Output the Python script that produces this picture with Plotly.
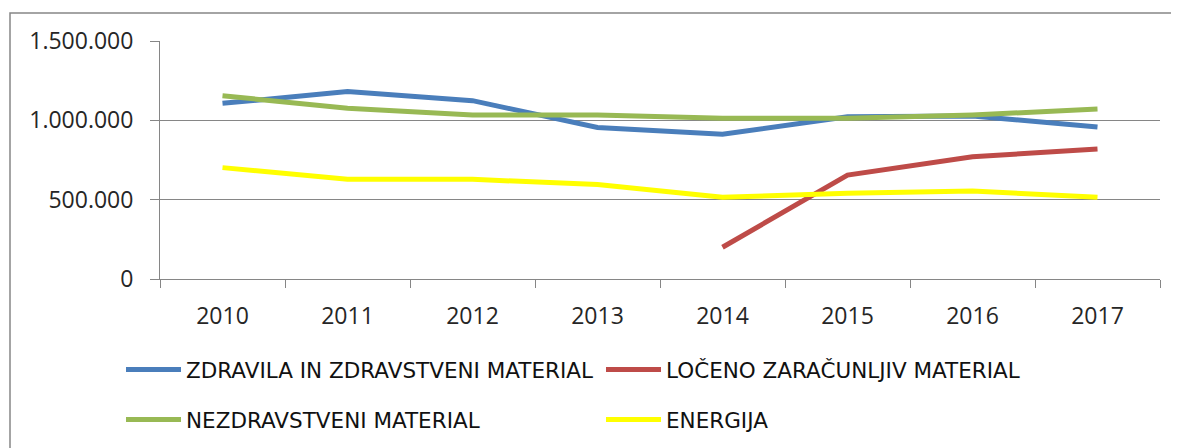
import plotly.graph_objects as go

# Data
years = ["2010", "2011", "2012", "2013", "2014", "2015", "2016", "2017"]
zdravila = [1107000, 1181000, 1124000, 955000, 912000, 1023000, 1027000, 958000]
loceno = [None, None, None, None, 200000, 655000, 771000, 819000]
nezdravstveni = [1155000, 1076000, 1034000, 1034000, 1013000, 1013000, 1034000, 1071000]
energija = [702000, 628000, 628000, 595000, 515000, 540000, 555000, 515000]

y_ticks = [0, 500000, 1000000, 1500000]
y_tick_text = ["0", "500.000", "1.000.000", "1.500.000"]

# name, values, colour, legend row
series = [
    ("ZDRAVILA IN ZDRAVSTVENI MATERIAL", zdravila, "#4A7EBB", "legend"),
    ("LOČENO ZARAČUNLJIV MATERIAL", loceno, "#BE4B48", "legend"),
    ("NEZDRAVSTVENI MATERIAL", nezdravstveni, "#98B954", "legend2"),
    ("ENERGIJA", energija, "#FFFF00", "legend2"),
]

fig = go.Figure()
for name, values, color, leg in series:
    fig.add_trace(go.Scatter(
        x=years,
        y=values,
        name=name,
        mode="lines",
        line=dict(color=color, width=5),
        connectgaps=False,
        legend=leg,
    ))

axis_color = "#868686"
tick_font = "Open Sans, Liberation Sans, sans-serif"
legend_font = dict(family="DejaVu Sans, sans-serif", size=21.5, color="#111111")

legend_common = dict(
    orientation="h",
    x=-0.039,
    xanchor="left",
    yanchor="middle",
    entrywidth=410,
    entrywidthmode="pixels",
    itemwidth=55,
    font=legend_font,
    bgcolor="rgba(0,0,0,0)",
)

fig.update_layout(
    width=1171,
    height=440,
    margin=dict(l=152, r=19, t=33, b=169, autoexpand=False),
    paper_bgcolor="white",
    plot_bgcolor="white",
    font=dict(family=tick_font, size=23, color="#262626"),
    showlegend=True,
    legend=dict(legend_common, y=-0.38),
    legend2=dict(legend_common, y=-0.59),
    xaxis=dict(
        type="category",
        range=[-0.5, 7.5],
        showgrid=False,
        showline=True,
        linecolor=axis_color,
        linewidth=1,
        ticks="outside",
        tickson="boundaries",
        ticklen=8,
        tickcolor=axis_color,
        ticklabelstandoff=16,
        tickfont=dict(size=23),
        fixedrange=True,
    ),
    yaxis=dict(
        range=[0, 1500000],
        tickvals=y_ticks,
        ticktext=y_tick_text,
        showgrid=True,
        gridcolor=axis_color,
        gridwidth=1,
        showline=True,
        linecolor=axis_color,
        linewidth=1,
        ticks="outside",
        ticklen=9,
        tickcolor=axis_color,
        ticklabelstandoff=12,
        tickfont=dict(size=23),
        zeroline=False,
        fixedrange=True,
    ),
    shapes=[
        dict(
            type="rect",
            xref="paper",
            yref="paper",
            x0=-0.15,
            x1=1.2,
            y0=-0.9,
            y1=1.1176,
            line=dict(color=axis_color, width=1.5),
            fillcolor="rgba(0,0,0,0)",
            layer="below",
        )
    ],
)

fig.write_html("out.html")
